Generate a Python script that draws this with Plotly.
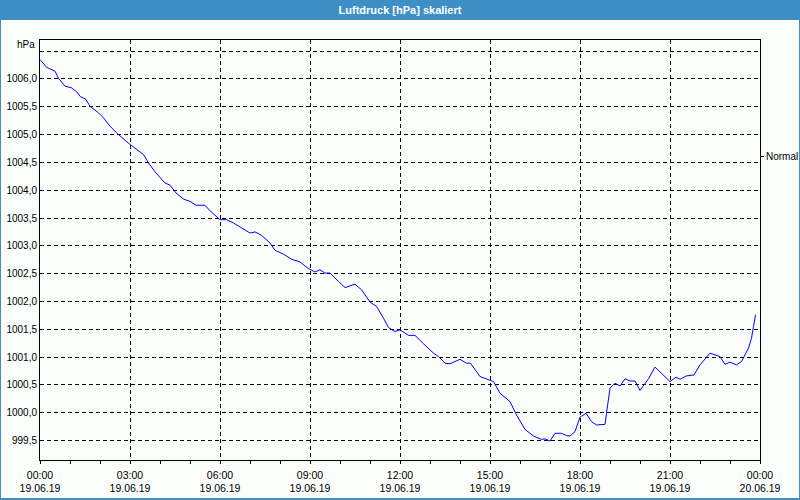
import plotly.graph_objects as go
import pandas as pd

DAY = "2019-06-19"
times = ["00:00", "00:13", "00:30", "00:37", "00:50", "01:03", "01:13", "01:21", "01:31", "01:40",
         "01:57", "02:07", "02:20", "02:37", "02:59", "03:13", "03:27", "03:37", "03:50", "04:10",
         "04:20", "04:32", "04:47", "05:00", "05:12", "05:30", "05:40", "06:00", "06:13", "06:27",
         "06:43", "07:00", "07:10", "07:23", "07:40", "07:50", "08:07", "08:23", "08:40", "08:57",
         "09:10", "09:20", "09:30", "09:40", "09:57", "10:10", "10:30", "10:43", "11:00", "11:13",
         "11:27", "11:37", "11:50", "12:00", "12:17", "12:30", "12:47", "13:07", "13:17", "13:30",
         "13:40", "14:00", "14:13", "14:21", "14:40", "14:57", "15:07", "15:20", "15:40", "15:53",
         "16:10", "16:27", "16:43", "16:50", "17:00", "17:10", "17:23", "17:33", "17:40", "17:50",
         "18:00", "18:12", "18:23", "18:33", "18:50", "18:53", "19:00", "19:10", "19:20", "19:30",
         "19:40", "19:50", "20:00", "20:17", "20:30", "21:00", "21:12", "21:20", "21:32", "21:48",
         "22:00", "22:20", "22:33", "22:40", "22:50", "23:00", "23:13", "23:23", "23:37", "23:43",
         "23:47", "23:51"]
pressure = [1006.35, 1006.21, 1006.14, 1006.01, 1005.87, 1005.84, 1005.77, 1005.68, 1005.64, 1005.51,
            1005.39, 1005.30, 1005.15, 1005.00, 1004.83, 1004.73, 1004.64, 1004.49, 1004.33, 1004.13,
            1004.09, 1003.95, 1003.84, 1003.80, 1003.73, 1003.73, 1003.63, 1003.47, 1003.47, 1003.41,
            1003.32, 1003.23, 1003.25, 1003.19, 1003.05, 1002.92, 1002.85, 1002.76, 1002.71, 1002.59,
            1002.53, 1002.57, 1002.51, 1002.51, 1002.36, 1002.25, 1002.31, 1002.21, 1001.99, 1001.91,
            1001.70, 1001.53, 1001.46, 1001.49, 1001.39, 1001.39, 1001.24, 1001.07, 1001.01, 1000.89,
            1000.88, 1000.96, 1000.89, 1000.89, 1000.65, 1000.59, 1000.56, 1000.35, 1000.20, 999.96,
            999.70, 999.58, 999.52, 999.53, 999.49, 999.63, 999.63, 999.59, 999.58, 999.66,
            999.92, 999.99, 999.84, 999.78, 999.79, 999.99, 1000.44, 1000.53, 1000.48, 1000.61,
            1000.57, 1000.57, 1000.40, 1000.61, 1000.82, 1000.56, 1000.64, 1000.60, 1000.66, 1000.68,
            1000.86, 1001.07, 1001.04, 1001.01, 1000.87, 1000.91, 1000.86, 1000.92, 1001.16, 1001.34,
            1001.55, 1001.76]

x_tick_times = ["2019-06-19 00:00", "2019-06-19 03:00", "2019-06-19 06:00", "2019-06-19 09:00",
                "2019-06-19 12:00", "2019-06-19 15:00", "2019-06-19 18:00", "2019-06-19 21:00",
                "2019-06-20 00:00"]
x_tick_labels = ["00:00<br>19.06.19", "03:00<br>19.06.19", "06:00<br>19.06.19", "09:00<br>19.06.19",
                 "12:00<br>19.06.19", "15:00<br>19.06.19", "18:00<br>19.06.19", "21:00<br>19.06.19",
                 "00:00<br>20.06.19"]
y_tick_vals = [999.5, 1000.0, 1000.5, 1001.0, 1001.5, 1002.0, 1002.5, 1003.0, 1003.5, 1004.0,
               1004.5, 1005.0, 1005.5, 1006.0, 1006.5]
y_tick_labels = ["999,5", "1000,0", "1000,5", "1001,0", "1001,5", "1002,0", "1002,5", "1003,0",
                 "1003,5", "1004,0", "1004,5", "1005,0", "1005,5", "1006,0", ""]
y_range = [999.15, 1006.70]
title_text = "Luftdruck [hPa] skaliert"
unit_text = "hPa"
series_name = "Normal"
series_label_value = 1004.6

x = pd.to_datetime([f"{DAY} {t}" for t in times])

W, H = 800, 500
L, R, T, B = 40, 40, 40, 40
PW, PH = W - L - R, H - T - B
BLUE = "#3d8fc6"
BG = "#fbfdfb"
FONT = "Liberation Sans"


def px_x(p):
    return (p - L) / PW


def px_y(p):
    return (H - B - p) / PH


fig = go.Figure()
fig.add_trace(go.Scatter(x=x, y=pressure, mode="lines", name=series_name,
                         line=dict(color="#0000ff", width=1), showlegend=False,
                         hoverinfo="skip"))
# invisible trace to bind the right-hand axis
fig.add_trace(go.Scatter(x=[x[0]], y=[pressure[0]], yaxis="y2", mode="lines",
                         line=dict(width=0), showlegend=False, hoverinfo="skip"))

grid = dict(showgrid=True, gridcolor="#000000", gridwidth=1, griddash="4px,3px")

fig.update_layout(
    width=W, height=H,
    margin=dict(l=L, r=R, t=T, b=B, pad=0, autoexpand=False),
    paper_bgcolor=BG, plot_bgcolor=BG,
    font=dict(family=FONT, size=10, color="#000000"),
    title=dict(text=f"<b>{title_text}</b>", x=0.5, xanchor="center", y=1 - 10 / H,
               yanchor="middle", font=dict(family=FONT, size=11, color="#ffffff"),
               automargin=False),
    xaxis=dict(type="date", range=[x_tick_times[0], x_tick_times[-1]],
               tickmode="array", tickvals=x_tick_times, ticktext=x_tick_labels,
               ticks="outside", ticklen=3, tickcolor="#000000", ticklabelstandoff=2,
               minor=dict(dtick=3600000, ticks="outside", ticklen=3, tickcolor="#000000",
                          showgrid=False),
               showline=True, linecolor="#000000", linewidth=1, mirror=True,
               zeroline=False, tickfont=dict(size=10.5), automargin=False, **grid),
    yaxis=dict(range=y_range, tickmode="array", tickvals=y_tick_vals, ticktext=y_tick_labels,
               ticks="", showline=True, linecolor="#000000", linewidth=1, mirror=True,
               zeroline=False, tickfont=dict(size=10), automargin=False, **grid),
    yaxis2=dict(range=y_range, overlaying="y", side="right", tickmode="array",
                tickvals=[series_label_value], ticktext=[series_name], ticks="outside",
                ticklen=3, tickcolor="#000000", showgrid=False, zeroline=False,
                showline=False, tickfont=dict(size=10), automargin=False),
    shapes=[
        dict(type="rect", xref="paper", yref="paper", x0=px_x(0), x1=px_x(W),
             y0=px_y(20), y1=px_y(0), fillcolor=BLUE, line=dict(width=0), layer="below"),
        dict(type="line", xref="paper", yref="paper", x0=px_x(0.5), x1=px_x(0.5),
             y0=px_y(0), y1=px_y(H), line=dict(color=BLUE, width=1)),
        dict(type="line", xref="paper", yref="paper", x0=px_x(W - 0.5), x1=px_x(W - 0.5),
             y0=px_y(0), y1=px_y(H), line=dict(color=BLUE, width=1)),
        dict(type="line", xref="paper", yref="paper", x0=px_x(0), x1=px_x(W),
             y0=px_y(H - 1), y1=px_y(H - 1), line=dict(color=BLUE, width=2)),
    ],
    annotations=[
        dict(text=unit_text, xref="paper", yref="paper", x=px_x(37), y=px_y(45),
             xanchor="right", yanchor="middle", showarrow=False, font=dict(size=10)),
    ],
)

fig.write_html("out.html")
